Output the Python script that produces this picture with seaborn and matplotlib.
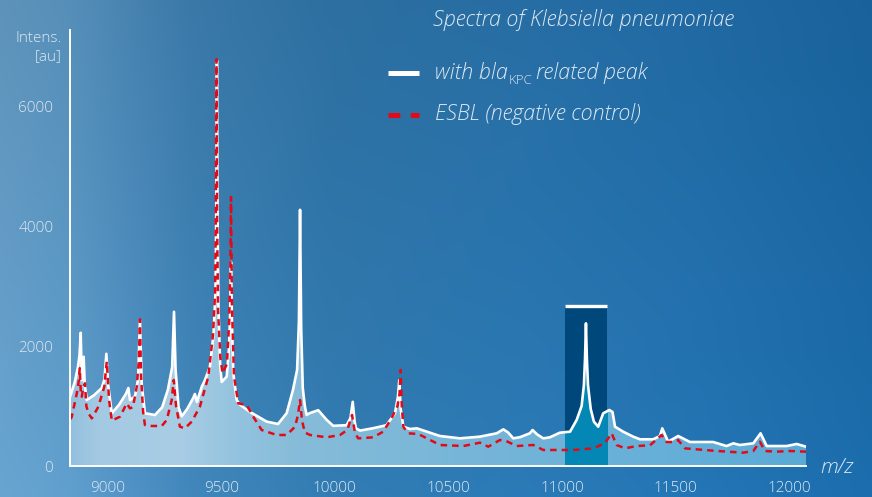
import numpy as np
import matplotlib
matplotlib.use("Agg")
import matplotlib.pyplot as plt
import seaborn as sns
from matplotlib.colors import to_rgb
from matplotlib.patches import Polygon, Rectangle
from matplotlib.lines import Line2D

# ==========================================
# Data
# ==========================================

# spectrum with bla_KPC related peak
kpc_mz = [8834, 8855, 8869, 8876, 8881, 8885, 8888, 8894, 8899, 8908,
          8940, 8974, 8986, 8994, 9002, 9018, 9050, 9080, 9091, 9098,
          9120, 9134, 9142, 9150, 9164, 9208, 9240, 9265, 9284, 9292,
          9299, 9312, 9326, 9350, 9376, 9384, 9393, 9414, 9428, 9450,
          9466, 9475, 9478, 9481, 9484, 9488, 9495, 9502, 9524, 9534,
          9539, 9543, 9547, 9553, 9568, 9583, 9627, 9700, 9750, 9788,
          9816, 9834, 9842, 9847, 9852, 9859, 9868, 9876, 9889, 9927,
          9964, 9993, 10052, 10069, 10079, 10087, 10093, 10111, 10169, 10228,
          10265, 10278, 10284, 10290, 10302, 10331, 10361, 10463, 10551, 10639,
          10713, 10742, 10763, 10786, 10815, 10859, 10871, 10890, 10918, 10947,
          10991, 11036, 11065, 11087, 11097, 11102, 11106, 11110, 11115, 11127,
          11141, 11160, 11182, 11209, 11223, 11234, 11270, 11314, 11344, 11402,
          11432, 11442, 11468, 11512, 11564, 11666, 11725, 11755, 11784, 11843,
          11875, 11902, 11990, 12034, 12075]
kpc_int = [1150, 1400, 1650, 1850, 2220, 1600, 1430, 1820, 1350, 1100,
           1180, 1300, 1450, 1870, 1350, 880, 1020, 1200, 1300, 1100,
           1160, 1450, 2430, 1350, 880, 850, 980, 1270, 1650, 2570,
           1600, 980, 830, 950, 1130, 1200, 1070, 1320, 1430, 1650,
           2200, 2900, 4200, 6760, 4000, 2600, 1700, 1400, 1490, 1950,
           2500, 3400, 2400, 1550, 1100, 1020, 900, 740, 700, 880,
           1270, 1600, 2400, 4270, 2300, 1300, 1000, 850, 880, 930,
           770, 670, 680, 800, 1070, 750, 630, 590, 630, 680,
           880, 1150, 1430, 950, 655, 617, 628, 500, 461, 489,
           545, 611, 560, 461, 480, 545, 600, 530, 461, 478,
           555, 572, 767, 1000, 1350, 1800, 2378, 1800, 1350, 950,
           739, 655, 878, 933, 900, 655, 572, 489, 445, 445,
           500, 628, 405, 500, 400, 400, 333, 378, 350, 378,
           545, 333, 333, 367, 322]

# ESBL (negative control)
esbl_mz = [8834, 8841, 8864, 8872, 8877, 8882, 8886, 8892, 8900, 8906,
           8915, 8930, 8959, 8985, 8996, 9006, 9018, 9054, 9084, 9098,
           9111, 9128, 9137, 9142, 9147, 9156, 9164, 9194, 9238, 9260,
           9282, 9291, 9301, 9318, 9340, 9370, 9406, 9443, 9464, 9473,
           9476, 9479, 9482, 9486, 9496, 9506, 9525, 9535, 9540, 9543,
           9547, 9556, 9575, 9612, 9641, 9678, 9744, 9788, 9825, 9838,
           9847, 9856, 9868, 9891, 9964, 10023, 10055, 10076, 10089, 10103,
           10169, 10213, 10250, 10276, 10285, 10290, 10295, 10302, 10324, 10368,
           10463, 10566, 10639, 10676, 10727, 10753, 10801, 10874, 10918, 11050,
           11138, 11189, 11219, 11241, 11278, 11329, 11388, 11439, 11461, 11490,
           11512, 11542, 11667, 11798, 11843, 11872, 11894, 11946, 12005, 12075]
esbl_int = [780, 811, 1211, 1400, 1630, 1200, 1155, 1300, 1378, 1000,
            878, 794, 989, 1322, 1740, 1100, 756, 822, 1044, 961,
            980, 1322, 1750, 2444, 1500, 900, 683, 667, 667, 767,
            1100, 1433, 1000, 655, 628, 739, 989, 1489, 2200, 2900,
            4200, 6780, 4000, 2600, 1800, 1545, 1700, 2400, 3300, 4483,
            2700, 1500, 1044, 1017, 822, 600, 517, 517, 655, 850,
            1100, 750, 560, 517, 478, 517, 600, 850, 550, 461,
            478, 572, 794, 1000, 1200, 1600, 1000, 650, 545, 533,
            350, 333, 389, 322, 433, 420, 333, 350, 267, 267,
            294, 378, 545, 350, 294, 333, 345, 517, 400, 400,
            433, 294, 255, 222, 250, 405, 250, 239, 250, 239]

x_ticks = [9000, 9500, 10000, 10500, 11000, 11500, 12000]
y_ticks = [0, 2000, 4000, 6000]

highlight_from = 11013
highlight_to = 11197
highlight_top = 2660

# ==========================================
# Style
# ==========================================

W, H = 872, 497
XMIN, XMAX = 8834, 12075
YMAX = 7267

TEXT = "#dde8f2"
RED = "#e30a17"
NAVY = "#00477c"
TEAL = "#0587b6"

sns.set_theme(style="white")
plt.rcParams["font.family"] = ["Open Sans", "DejaVu Sans"]
plt.rcParams["font.weight"] = "light"


def gradient(stops, n):
    pos = [s[0] for s in stops]
    cols = np.array([to_rgb(s[1]) for s in stops])
    xs = np.linspace(0, 1, n)
    return np.stack([np.interp(xs, pos, cols[:, i]) for i in range(3)], axis=-1)


fig = plt.figure(figsize=(W / 100, H / 100), dpi=100)

# background
bg = fig.add_axes([0, 0, 1, 1], zorder=0)
bg_row = gradient([(0.0, "#66a0cb"), (0.08, "#5d9bc8"), (0.15, "#4e8ec0"),
                   (0.22, "#3f83b6"), (0.38, "#3179ae"), (0.6, "#2a77b2"),
                   (0.8, "#2372b0"), (1.0, "#1b6aa8")], W)
bg_img = np.tile(bg_row, (100, 1, 1))
shade = np.linspace(0.92, 1.03, 100)[:, None, None]
bg.imshow(np.clip(bg_img * shade, 0, 1), aspect="auto", extent=[0, 1, 0, 1])
bg.set_axis_off()

# main axes
ax = fig.add_axes([70 / W, 31 / H, 736 / W, 436 / H], zorder=1)
ax.patch.set_alpha(0)

# highlighted KPC region
ax.add_patch(Rectangle((highlight_from, 0), highlight_to - highlight_from,
                       highlight_top, color=NAVY, lw=0, zorder=1.5))

# gradient fill under the KPC spectrum
poly = Polygon(np.column_stack([[kpc_mz[0]] + kpc_mz + [kpc_mz[-1]],
                                [0] + kpc_int + [0]]),
               closed=True, facecolor="none", edgecolor="none")
ax.add_patch(poly)
fill_row = gradient([(0.0, "#93c0de"), (0.04, "#a4cae3"), (0.15, "#a8cde5"),
                     (0.23, "#92c2de"), (0.31, "#86bcd9"), (0.52, "#78b6d8"),
                     (0.86, "#62aed8"), (1.0, "#5aaad6")], 400)
fill_img = ax.imshow(np.tile(fill_row, (10, 1, 1)), aspect="auto",
                     extent=[XMIN, XMAX, 0, YMAX], zorder=2)
fill_img.set_clip_path(poly)

teal = ax.fill_between(kpc_mz, kpc_int, color=TEAL, lw=0, zorder=2.5)
clip = Rectangle((highlight_from, 0), highlight_to - highlight_from,
                 highlight_top, transform=ax.transData)
teal.set_clip_path(clip)

ax.plot([highlight_from, highlight_to], [highlight_top, highlight_top],
        color="white", lw=2.4, solid_capstyle="butt", zorder=3)

# spectra
sns.lineplot(x=kpc_mz, y=kpc_int, color="white", lw=1.9, ax=ax, zorder=4,
             solid_joinstyle="round")
sns.lineplot(x=esbl_mz, y=esbl_int, color=RED, lw=1.8, ax=ax, zorder=5)
ax.lines[-1].set_dashes([2.6, 2.0])

ax.set_xlim(XMIN, XMAX)
ax.set_ylim(0, YMAX)
ax.set_xticks(x_ticks)
ax.set_yticks(y_ticks)
ax.set_xlabel("")
ax.set_ylabel("")

for s in ["top", "right"]:
    ax.spines[s].set_visible(False)
for s in ["left", "bottom"]:
    ax.spines[s].set_color("white")
    ax.spines[s].set_linewidth(1.4)
    ax.spines[s].set_zorder(6)

ax.tick_params(axis="both", direction="out", length=7, width=1.1,
               color="white", labelcolor=TEXT, labelsize=11)
ax.tick_params(axis="y", pad=5)
ax.tick_params(axis="x", pad=4)
ax.grid(False)

# ==========================================
# Texts and legend
# ==========================================

fig.text(62 / W, 1 - 38 / H, "Intens.", ha="right", va="center",
         color=TEXT, fontsize=11)
fig.text(62 / W, 1 - 57 / H, "[au]", ha="right", va="center",
         color=TEXT, fontsize=11)
fig.text(820 / W, 1 - 468 / H, "m/z", ha="left", va="center",
         color=TEXT, fontsize=15, style="italic")
fig.text(433 / W, 1 - 26 / H, "Spectra of Klebsiella pneumoniae",
         ha="left", va="baseline", color=TEXT, fontsize=15.5, style="italic")

fig.add_artist(Line2D([388 / W, 419 / W], [1 - 73 / H, 1 - 73 / H],
                      color="white", lw=3.6, solid_capstyle="butt"))
fig.add_artist(Line2D([388 / W, 419 / W], [1 - 115 / H, 1 - 115 / H],
                      color=RED, lw=3.6, dashes=(8.5 / 3.6, 7.5 / 3.6),
                      dash_capstyle="butt"))

fig.canvas.draw()
renderer = fig.canvas.get_renderer()
t1 = fig.text(435 / W, 1 - 79 / H, "with bla", ha="left", va="baseline",
              color=TEXT, fontsize=15.5, style="italic")
x1 = t1.get_window_extent(renderer).x1
t2 = fig.text(x1 / W + 1 / W, 1 - 84 / H, "KPC", ha="left", va="baseline",
              color=TEXT, fontsize=9.5)
x2 = t2.get_window_extent(renderer).x1
fig.text(x2 / W + 4 / W, 1 - 79 / H, "related peak", ha="left",
         va="baseline", color=TEXT, fontsize=15.5, style="italic")
fig.text(435 / W, 1 - 120 / H, "ESBL (negative control)", ha="left",
         va="baseline", color=TEXT, fontsize=15.5, style="italic")

fig.savefig("out.png", dpi=100)
